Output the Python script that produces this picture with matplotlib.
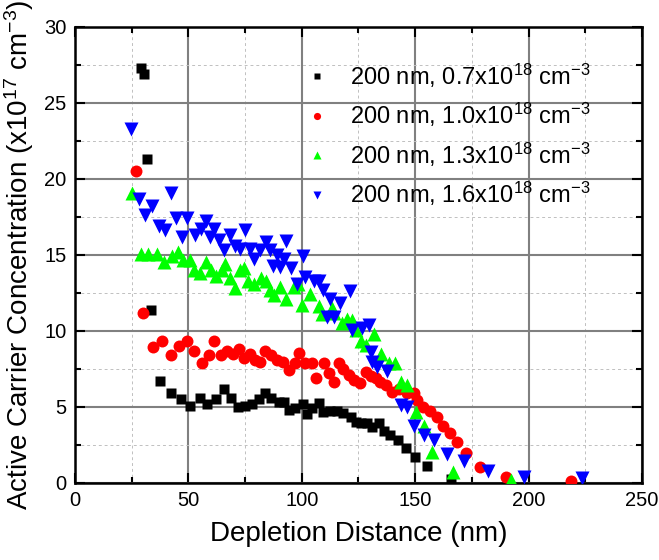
import matplotlib
matplotlib.use('Agg')
import matplotlib.pyplot as plt
from matplotlib.ticker import MultipleLocator

plt.rcParams['font.family'] = ['Liberation Sans', 'DejaVu Sans']
plt.rcParams['mathtext.fontset'] = 'custom'
plt.rcParams['mathtext.rm'] = 'Liberation Sans'
plt.rcParams['mathtext.it'] = 'Liberation Sans:italic'

# --- dados (distância em nm, concentração em 1e17 cm^-3) ---
x_07 = [29.2, 30.5, 31.7, 33.6, 37.5, 42.4, 46.9, 50.9, 54.9, 58.4, 62.3, 65.5,
        68.8, 71.7, 75.1, 78.0, 81.0, 83.9, 86.4, 89.8, 92.0, 94.2, 97.2, 100.4,
        102.2, 104.5, 107.5, 109.4, 112.6, 115.6, 118.2, 121.5, 123.7, 125.9,
        128.8, 131.1, 134.1, 136.3, 139.1, 142.4, 145.8, 149.7, 155.3, 166.0]
y_07 = [27.3, 26.9, 21.3, 11.35, 6.7, 5.9, 5.5, 5.05, 5.6, 5.2, 5.5, 6.15,
        5.6, 5.0, 5.05, 5.2, 5.5, 5.9, 5.55, 5.3, 5.3, 4.8, 4.9, 5.15,
        4.5, 4.9, 5.25, 4.65, 4.75, 4.75, 4.6, 4.35, 4.0, 3.9,
        3.9, 3.65, 3.95, 3.4, 3.15, 2.8, 2.3, 1.7, 1.1, 0.22]

x_10 = [26.8, 29.9, 34.3, 38.3, 42.3, 45.9, 49.3, 52.4, 56.0, 58.9, 61.4, 64.4,
        67.0, 69.7, 72.1, 74.3, 77.3, 79.5, 81.7, 83.9, 86.4, 89.1, 91.7, 94.2,
        97.2, 98.9, 101.6, 104.5, 106.4, 110.0, 111.9, 114.1, 116.3, 118.2, 120.7,
        123.2, 125.6, 128.5, 130.3, 132.5, 134.7, 137.3, 139.9, 142.8, 146.2,
        149.4, 150.9, 153.5, 156.5, 159.8, 162.4, 165.3, 168.3, 172.4, 178.4,
        189.9, 218.9]
y_10 = [20.5, 11.2, 8.95, 9.3, 8.4, 9.0, 9.3, 8.65, 7.9, 8.4, 9.3, 8.4,
        8.7, 8.5, 8.8, 8.2, 8.5, 8.1, 7.95, 8.7, 8.4, 8.1, 7.95, 7.45,
        7.85, 8.55, 7.85, 7.85, 6.9, 7.85, 7.2, 6.65, 7.9, 7.5, 7.1,
        6.75, 6.55, 7.3, 7.0, 6.9, 6.65, 6.4, 6.0, 6.15, 5.9,
        5.9, 5.45, 5.0, 4.75, 4.35, 3.7, 3.3, 2.65, 1.95, 1.05,
        0.4, 0.13]

x_13 = [25.2, 28.9, 32.4, 36.1, 39.3, 42.7, 45.4, 47.8, 50.8, 52.6, 55.2, 57.9,
        59.9, 62.3, 64.8, 66.3, 68.5, 70.7, 72.6, 74.6, 76.5, 79.1, 82.0, 84.0,
        85.8, 87.9, 90.5, 93.2, 96.4, 98.2, 100.0, 103.5, 107.5, 109.0, 113.4,
        114.1, 117.8, 120.0, 122.2, 123.7, 126.2, 128.1, 131.8, 134.9, 138.4,
        141.3, 143.6, 146.2, 150.2, 153.8, 157.5, 166.8, 192.4]
y_13 = [19.1, 15.05, 15.05, 15.05, 14.5, 14.9, 15.2, 14.65, 14.65, 14.0, 13.8, 14.5,
        14.0, 13.6, 14.0, 14.4, 13.45, 12.8, 14.0, 14.1, 13.3, 13.1, 13.45, 13.3,
        12.7, 12.35, 12.85, 12.1, 12.9, 13.1, 11.7, 12.4, 11.6, 11.1, 11.5,
        11.15, 10.5, 10.8, 10.7, 10.05, 9.35, 9.05, 9.8, 8.45, 7.9,
        7.85, 6.65, 6.4, 4.65, 3.7, 2.0, 0.7, 0.18]

x_16 = [24.7, 28.3, 30.9, 34.1, 37.1, 39.8, 42.3, 44.5, 47.1, 49.5, 53.0, 55.5,
        57.9, 59.6, 61.1, 63.7, 65.5, 68.2, 70.7, 72.9, 75.1, 77.3, 79.1, 81.7,
        84.4, 86.1, 87.3, 89.1, 90.5, 92.0, 93.2, 95.3, 97.9, 100.6, 101.6,
        105.3, 107.5, 109.4, 111.2, 112.6, 114.1, 117.0, 121.2, 122.2, 126.6,
        129.5, 130.3, 131.0, 133.2, 137.7, 143.6, 146.5, 149.4, 153.8, 158.3,
        163.9, 171.5, 182.3, 198.0, 223.5]
y_16 = [23.3, 18.7, 17.6, 18.2, 16.9, 16.6, 19.1, 17.4, 16.2, 17.4, 16.3, 16.7,
        17.2, 16.2, 16.7, 16.0, 15.3, 16.3, 15.6, 15.4, 16.6, 15.4, 14.7, 15.3,
        15.85, 15.3, 14.25, 15.0, 14.2, 14.7, 15.9, 14.1, 13.1, 14.9, 13.55,
        13.3, 13.3, 12.7, 10.9, 12.1, 10.9, 11.8, 12.6, 10.05, 10.15,
        10.4, 8.6, 7.95, 7.6, 7.35, 5.1, 5.0, 3.75, 3.15, 2.8,
        1.9, 1.45, 0.8, 0.4, 0.3]

rotulos = [r'200 nm, 0.7x10$^{\mathregular{18}}$ cm$^{\mathregular{-3}}$',
           r'200 nm, 1.0x10$^{\mathregular{18}}$ cm$^{\mathregular{-3}}$',
           r'200 nm, 1.3x10$^{\mathregular{18}}$ cm$^{\mathregular{-3}}$',
           r'200 nm, 1.6x10$^{\mathregular{18}}$ cm$^{\mathregular{-3}}$']

fig = plt.figure(figsize=(6.59, 5.6), dpi=100)
ax = fig.add_axes([0.1138, 0.138, 0.8604, 0.814])

ax.plot(x_07, y_07, 's', color='black', ms=7.8, mec='none', label=rotulos[0], zorder=3)
ax.plot(x_10, y_10, 'o', color='red', ms=8.6, mec='none', label=rotulos[1], zorder=3)
ax.plot(x_13, y_13, '^', color='#00ff00', ms=9.6, mec='none', label=rotulos[2], zorder=3)
ax.plot(x_16, y_16, 'v', color='blue', ms=9.6, mec='none', label=rotulos[3], zorder=3)

ax.set_xlim(0, 250)
ax.set_ylim(0, 30)
ax.xaxis.set_major_locator(MultipleLocator(50))
ax.xaxis.set_minor_locator(MultipleLocator(25))
ax.yaxis.set_major_locator(MultipleLocator(5))
ax.yaxis.set_minor_locator(MultipleLocator(2.5))

ax.grid(True, which='major', color='#808080', linewidth=1.5, linestyle='-', zorder=0)
ax.grid(True, which='minor', color='#c0c0c0', linewidth=0.7, linestyle=(0, (3, 3)), zorder=0)
ax.set_axisbelow(True)

ax.tick_params(which='both', direction='in', top=True, right=True, width=1.5,
               labelsize=14.5, pad=6)
ax.tick_params(which='major', length=7)
ax.tick_params(which='minor', length=4)
for s in ax.spines.values():
    s.set_linewidth(1.8)

ax.set_xlabel('Depletion Distance (nm)', fontsize=20, labelpad=8)
ax.set_ylabel(r'Active Carrier Concentration (x10$^{\mathregular{17}}$ cm$^{\mathregular{-3}}$)',
              fontsize=20, labelpad=6)

ax.legend(loc='upper left', bbox_to_anchor=(0.385, 0.945), frameon=False, fontsize=17,
          markerscale=0.6, handlelength=1.2, handletextpad=0.8, labelspacing=0.48,
          borderaxespad=0)

fig.savefig('out.png', dpi=100)
